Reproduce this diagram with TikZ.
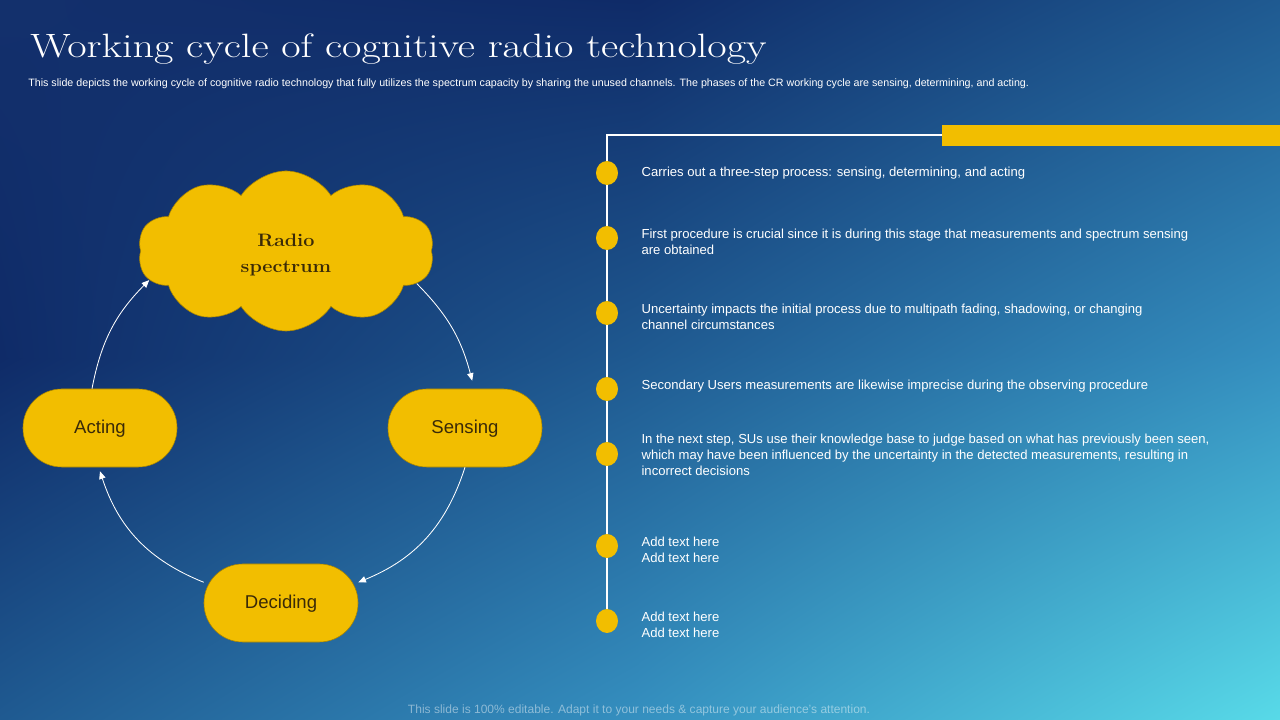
\documentclass[tikz,border=0pt]{standalone}
\usepackage{fontspec}
\setsansfont{Liberation Sans}
\newfontfamily\titlefont[FakeStretch=1.25]{Latin Modern Roman}
\newfontfamily\cloudfont[FakeStretch=1.1]{Latin Modern Roman}
\usepackage{tikz}
\usetikzlibrary{arrows.meta,positioning,shapes.symbols,shapes.geometric,shadings}
\definecolor{crgold}{HTML}{F2BE00}
\definecolor{crbrown}{HTML}{3A2A08}
\definecolor{bgA}{HTML}{13306C}
\definecolor{bgB}{HTML}{0F2B68}
\definecolor{bgC}{HTML}{1F5A91}
\definecolor{bgD}{HTML}{3590C0}
\definecolor{bgE}{HTML}{58DAE8}

\begin{document}
\begin{tikzpicture}[x=0.025cm, y=0.025cm,
  phase/.style={fill=crgold, draw=crgold!70!black, line width=.4pt, rounded corners=0.97cm, minimum width=3.85cm, minimum height=1.95cm, text depth=0.05cm, text=crbrown, font=\sffamily\fontsize{13.2}{16}\selectfont},
  flow/.style={-{Triangle[length=1.9mm, width=1.6mm]}, draw=white, line width=.6pt},
  rail/.style={draw=white, line width=1pt},
  dotnode/.style={ellipse, fill=crgold, minimum width=0.55cm, minimum height=0.6cm, inner sep=0},
  item/.style={align=left, text=white, inner sep=0, font=\sffamily\fontsize{9.3}{11.4}\selectfont}
]
\useasboundingbox (0,0) rectangle (1280,720);
\shade[upper left=bgA, upper right=bgB, lower left=bgB, lower right=bgC] (0,359) rectangle (641,720);
\shade[upper left=bgB, upper right=bgC, lower left=bgC, lower right=bgD] (639,359) rectangle (1280,720);
\shade[upper left=bgB, upper right=bgC, lower left=bgC, lower right=bgD] (0,0) rectangle (641,361);
\shade[upper left=bgC, upper right=bgD, lower left=bgD, lower right=bgE] (639,0) rectangle (1280,361);
\node[anchor=base west, inner sep=0, text=white, font=\titlefont\fontsize{24}{28}\selectfont] (title) at (30,662) {Working cycle of cognitive radio technology};
\node[anchor=base west, inner sep=0, text=white, font=\sffamily\fontsize{7.6}{9}\selectfont] (sub) at (28,633) {This slide depicts the working cycle of cognitive radio technology that fully utilizes the spectrum capacity by sharing the unused channels. The phases of the CR working cycle are sensing, determining, and acting.};
\node[cloud, cloud puffs=10, cloud puff arc=115, aspect=1.8, fill=crgold, draw=crgold!70!black, line width=.4pt, minimum width=7.4cm, minimum height=4cm] (radio) at (286,469) {};
\node[align=center, text=crbrown, font=\cloudfont\bfseries\fontsize{12.8}{18.5}\selectfont] (radiotxt) at ([yshift=-0.1cm]radio.center) {Radio\\spectrum};
\node[phase] (acting) at (100,292) {Acting};
\node[phase] (sensing) at (465,292) {Sensing};
\node[phase] (deciding) at (281,117) {Deciding};
\draw[flow] (radio.-14) to[bend left=15] ([xshift=.18cm, yshift=.2cm]sensing.north);
\draw[flow] (sensing.south) to[bend left=25] (deciding.15);
\draw[flow] (deciding.165) to[bend left=25] ([yshift=-.1cm]acting.south);
\draw[flow] ([xshift=-.2cm]acting.north) to[bend left=17] (radio.192);
\node[fill=crgold, minimum width=8.45cm, minimum height=0.525cm, inner sep=0, anchor=south west] (bar) at (942,574) {};
\coordinate (railend) at (607,99);
\draw[rail] (bar.west) -| (railend);
\foreach \n/\yy/\dy/\txt in {
  1/547/0/{Carries out a three-step process: sensing, determining, and acting},
  2/482/-4/{First procedure is crucial since it is during this stage that measurements and spectrum sensing\\are obtained},
  3/407/-4/{Uncertainty impacts the initial process due to multipath fading, shadowing, or changing\\channel circumstances},
  4/331/3/{Secondary Users measurements are likewise imprecise during the observing procedure},
  5/266/-1/{In the next step, SUs use their knowledge base to judge based on what has previously been seen,\\which may have been influenced by the uncertainty in the detected measurements, resulting in\\incorrect decisions},
  6/174/-4/{Add text here\\Add text here},
  7/99/-4/{Add text here\\Add text here}}{
  \node[dotnode] (b\n) at (607,\yy) {};
  \node[item, right=0.575cm of b\n, yshift=\dy*0.025cm] (t\n) {\txt};
}
\node[text=white, text opacity=.45, inner sep=0, font=\sffamily\fontsize{8.55}{10}\selectfont] (foot) at (639,10) {This slide is 100\% editable. Adapt it to your needs \& capture your audience’s attention.};
\end{tikzpicture}
\end{document}
